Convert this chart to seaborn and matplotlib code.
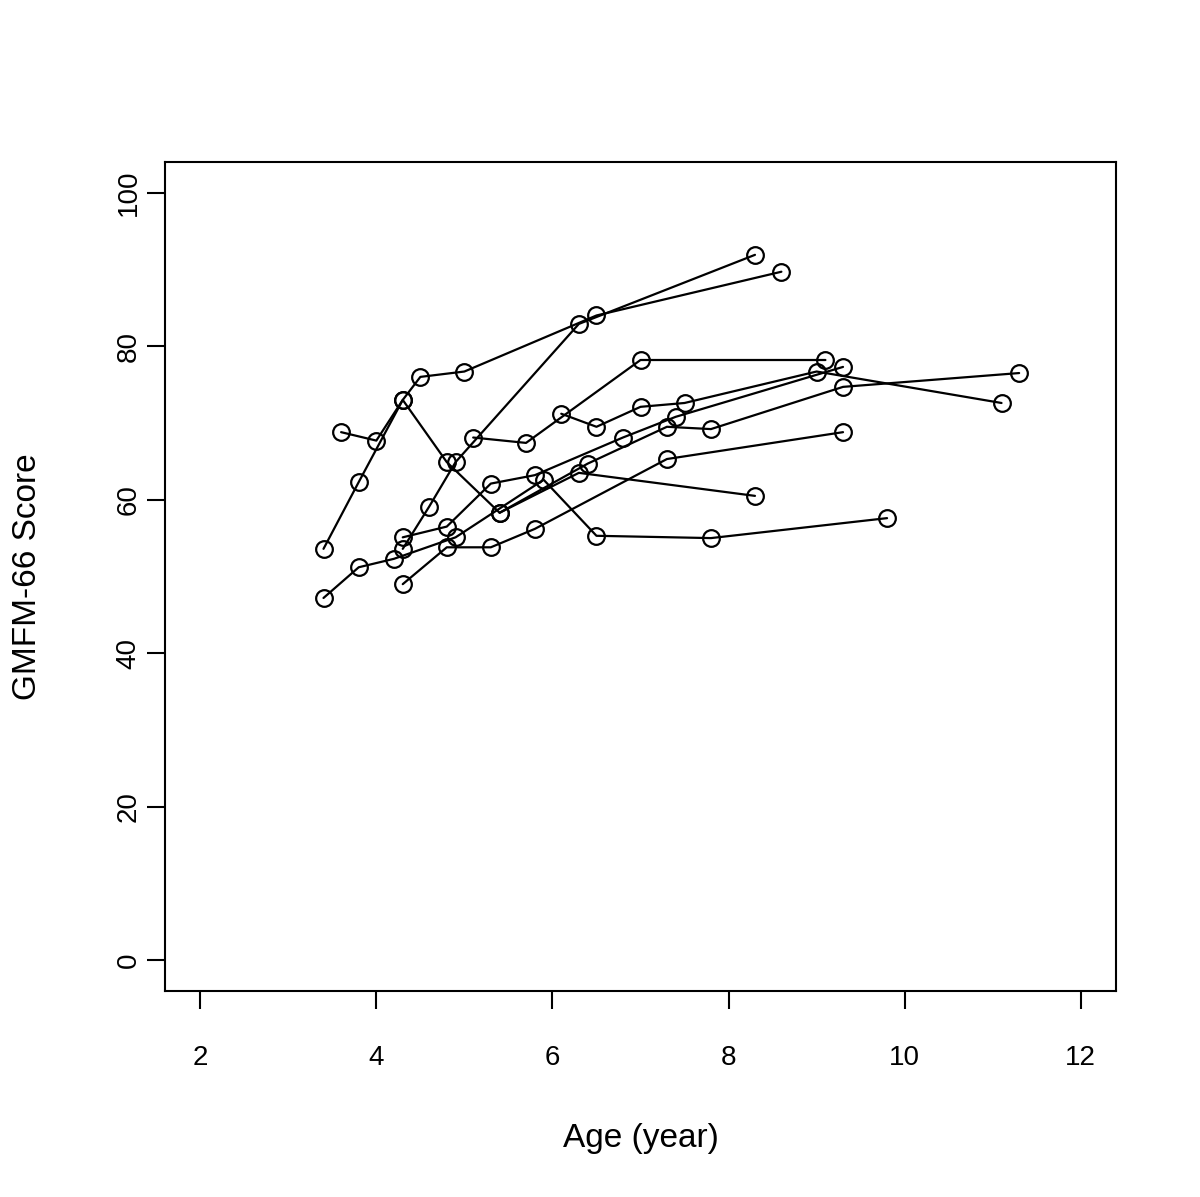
import matplotlib
matplotlib.use("Agg")
import matplotlib.pyplot as plt
import numpy as np
import pandas as pd
import seaborn as sns

# ---- data: each child's visits (age in years, GMFM-66 score) ----
age_c1 = [3.4, 3.8, 4.3, 4.5, 5.0, 6.5, 8.6]
gmfm_c1 = [53.6, 62.3, 73.0, 76.0, 76.7, 84.0, 89.7]

age_c2 = [3.6, 4.0, 4.3, 4.8, 5.4, 6.3, 8.3]
gmfm_c2 = [68.8, 67.7, 73.0, 64.9, 58.3, 63.5, 60.5]

age_c3 = [4.3, 4.6, 4.9, 6.3, 8.3]
gmfm_c3 = [53.6, 59.1, 64.9, 82.9, 91.9]

age_c4 = [4.3, 4.8, 5.3, 5.8, 6.8, 7.4, 9.3]
gmfm_c4 = [55.1, 56.5, 62.1, 63.2, 68.1, 70.8, 77.3]

age_c5 = [4.3, 4.8, 5.3, 5.8, 7.3, 9.3]
gmfm_c5 = [49.0, 53.8, 53.8, 56.2, 65.3, 68.8]

age_c6 = [3.4, 3.8, 4.2, 4.9, 5.9, 6.5, 7.8, 9.8]
gmfm_c6 = [47.2, 51.2, 52.3, 55.1, 62.6, 55.3, 55.0, 57.6]

age_c7 = [5.1, 5.7, 7.0, 9.1]
gmfm_c7 = [68.1, 67.4, 78.2, 78.2]

age_c8 = [6.1, 6.5, 7.0, 7.5, 9.0, 11.1]
gmfm_c8 = [71.2, 69.5, 72.1, 72.6, 76.7, 72.6]

age_c9 = [5.4, 6.4, 7.3, 7.8, 9.3, 11.3]
gmfm_c9 = [58.3, 64.7, 69.5, 69.2, 74.7, 76.5]

x_ticks = [2, 4, 6, 8, 10, 12]
y_ticks = [0, 20, 40, 60, 80, 100]

ages = [age_c1, age_c2, age_c3, age_c4, age_c5, age_c6, age_c7, age_c8, age_c9]
scores = [gmfm_c1, gmfm_c2, gmfm_c3, gmfm_c4, gmfm_c5, gmfm_c6, gmfm_c7, gmfm_c8, gmfm_c9]

rows = []
for cid, (a, s) in enumerate(zip(ages, scores), start=1):
    for ai, si in zip(a, s):
        rows.append({"child": cid, "age": ai, "score": si})
df = pd.DataFrame(rows)

# ---- style ----
sns.set_theme(style="ticks")
plt.rcParams["font.family"] = ["Liberation Sans", "DejaVu Sans"]

fig = plt.figure(figsize=(12, 11.97), dpi=100)
ax = fig.add_axes([0.1375, 0.1721, 0.7925, 0.6926])

sns.lineplot(
    data=df, x="age", y="score", units="child", estimator=None, sort=False,
    color="black", linewidth=1.6, marker="o", markersize=12,
    markerfacecolor="none", markeredgecolor="black", markeredgewidth=1.6,
    legend=False, ax=ax,
)

ax.set_xlim(1.6, 12.4)
ax.set_ylim(-4, 104)
ax.set_xticks(x_ticks)
ax.set_yticks(y_ticks)
ax.set_xticklabels([str(t) for t in x_ticks], fontsize=20)
ax.set_yticklabels([str(t) for t in y_ticks], fontsize=20, rotation=90, va="center")

for side in ["top", "right", "bottom", "left"]:
    ax.spines[side].set_visible(True)
    ax.spines[side].set_linewidth(1.5)
    ax.spines[side].set_color("black")

ax.tick_params(axis="both", direction="out", length=13, width=1.5, color="black",
               labelcolor="black")
ax.tick_params(axis="x", pad=26)
ax.tick_params(axis="y", pad=4)

ax.set_xlabel("Age (year)", fontsize=24, labelpad=37, color="black")
ax.set_ylabel("GMFM-66 Score", fontsize=24, labelpad=52, color="black")

fig.savefig("out.png", dpi=100, facecolor="white")
